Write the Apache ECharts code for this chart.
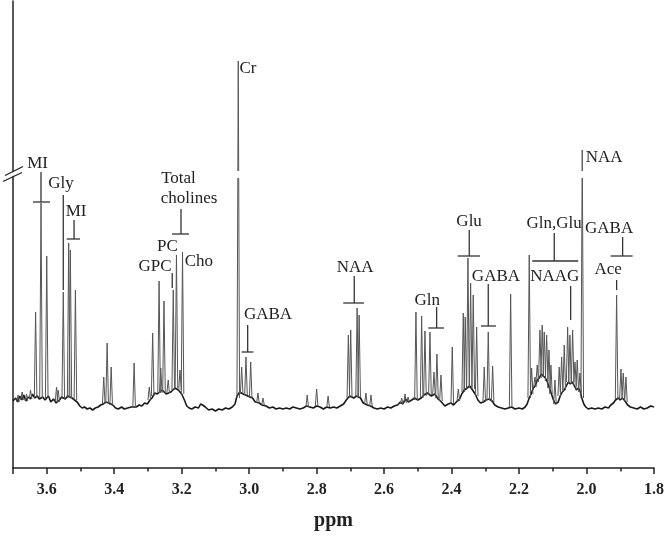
<!DOCTYPE html>
<html>
<head>
<meta charset="utf-8">
<script src="https://cdn.jsdelivr.net/npm/echarts@6/dist/echarts.min.js"></script>
</head>
<body style="margin: 0; padding: 0; background: #fff;">
<div id="chart" style="width: 668px; height: 537px;"></div>
<script>
// spectrum, intensity in arbitrary units (0 = baseline)
// baseline noise and humps: [ppm, level]
const baseline = [
  [3.700, 7], [3.692, 10], [3.686, 6], [3.680, 12], [3.674, 8], [3.668, 13], [3.662, 7],
  [3.655, 11], [3.648, 9], [3.642, 14], [3.636, 10], [3.628, 12], [3.622, 9], [3.612, 11],
  [3.605, 8], [3.595, 12], [3.588, 6], [3.580, 9], [3.572, 5], [3.562, 8], [3.556, 11],
  [3.545, 9], [3.538, 12], [3.525, 10], [3.510, 6], [3.502, 2], [3.495, 0], [3.488, 1],
  [3.480, -1], [3.472, 0], [3.464, -2], [3.456, 0], [3.448, 1], [3.440, 3], [3.432, 4],
  [3.426, 6], [3.416, 5], [3.404, 3], [3.396, 0], [3.388, -1], [3.378, 1], [3.370, -1],
  [3.360, 0], [3.350, 1], [3.345, 2], [3.335, 1], [3.326, 3], [3.318, 2], [3.310, 5],
  [3.302, 4], [3.294, 8], [3.288, 10], [3.280, 15], [3.272, 14], [3.258, 18], [3.246, 14],
  [3.232, 16], [3.220, 20], [3.210, 18], [3.200, 14], [3.192, 8], [3.185, 2], [3.178, 0],
  [3.170, -1], [3.160, 1], [3.150, 0], [3.144, 4], [3.138, 3], [3.130, 1], [3.120, -2],
  [3.110, -1], [3.100, -3], [3.090, -1], [3.080, -2], [3.070, 0], [3.060, -1], [3.050, 1],
  [3.042, 4], [3.036, 12], [3.028, 16], [3.018, 14], [3.004, 12], [2.990, 10], [2.982, 6],
  [2.970, 5], [2.962, 3], [2.950, 2], [2.940, 0], [2.930, 1], [2.920, -1], [2.910, 0],
  [2.900, -1], [2.890, 0], [2.880, -1], [2.870, 1], [2.860, 0], [2.850, -1], [2.840, 0],
  [2.830, 2], [2.820, 1], [2.810, 0], [2.800, 2], [2.790, 1], [2.780, -1], [2.770, 1],
  [2.760, 0], [2.750, 1], [2.740, 0], [2.730, 2], [2.720, 4], [2.712, 8], [2.702, 12],
  [2.690, 10], [2.682, 12], [2.670, 10], [2.662, 5], [2.650, 3], [2.640, 2], [2.630, 0],
  [2.620, -1], [2.610, 0], [2.600, -1], [2.590, 1], [2.580, 0], [2.570, 2], [2.560, 3],
  [2.552, 6], [2.545, 4], [2.536, 9], [2.528, 6], [2.518, 8], [2.510, 10], [2.500, 8],
  [2.490, 10], [2.482, 13], [2.472, 15], [2.460, 12], [2.450, 14], [2.440, 9], [2.430, 6],
  [2.420, 2], [2.410, 4], [2.402, 5], [2.394, 3], [2.386, 6], [2.376, 9], [2.370, 14],
  [2.362, 18], [2.354, 20], [2.346, 22], [2.338, 18], [2.330, 14], [2.322, 8], [2.314, 5],
  [2.306, 6], [2.298, 8], [2.288, 9], [2.280, 7], [2.272, 3], [2.262, 1], [2.252, 0],
  [2.242, -1], [2.232, 0], [2.222, 1], [2.212, -1], [2.200, 0], [2.190, -1], [2.182, 1],
  [2.176, 4], [2.170, 10], [2.164, 14], [2.158, 20], [2.152, 22], [2.146, 28], [2.140, 30],
  [2.134, 34], [2.128, 32], [2.122, 30], [2.116, 26], [2.110, 20], [2.104, 14], [2.098, 8],
  [2.092, 4], [2.088, 2], [2.084, 6], [2.078, 12], [2.072, 16], [2.066, 18], [2.060, 22],
  [2.054, 26], [2.048, 24], [2.042, 26], [2.036, 22], [2.030, 18], [2.024, 20], [2.018, 16],
  [2.014, 10], [2.008, 4], [2.002, 1], [1.995, -1], [1.985, 0], [1.975, -1], [1.965, 0],
  [1.955, -1], [1.945, 1], [1.935, 0], [1.928, 3], [1.920, 5], [1.914, 8], [1.906, 10],
  [1.900, 8], [1.894, 10], [1.886, 7], [1.878, 3], [1.870, 1], [1.860, 0], [1.850, -1],
  [1.840, 1], [1.830, -1], [1.820, 0], [1.810, 2], [1.800, 1]
]

// peaks: [ppm, top, local base]
const miPeaks = [
  [3.685, 13, 6], [3.673, 16, 8], [3.660, 14, 7], [3.648, 18, 9],
  [3.633, 96, 10], [3.617, 205, 10], [3.600, 152, 10], [3.571, 21, 6], [3.566, 18, 6],
  [3.551, 116, 9], [3.535, 165, 10], [3.530, 158, 10], [3.515, 118, 8],
  [3.431, 31, 4], [3.421, 65, 5], [3.409, 41, 3], [3.341, 45, 1]
]
const cholinePeaks = [
  [3.296, 21, 8], [3.286, 75, 12], [3.267, 127, 15], [3.262, 40, 15], [3.2525, 107, 16],
  [3.240, 28, 15], [3.225, 118, 18], [3.2155, 153, 20], [3.205, 38, 18], [3.1975, 156, 14]
]
const crPeaks = [
  [3.0323, 347, 10], [3.0222, 41, 14], [3.0094, 51, 13], [2.9955, 46, 10],
  [2.974, 15, 5], [2.959, 10, 3], [2.828, 13, 1], [2.800, 19, 2], [2.766, 12, 1]
]
const naaPeaks = [
  [2.706, 73, 10], [2.699, 78, 11], [2.680, 100, 11], [2.674, 93, 11], [2.654, 15, 4], [2.639, 13, 2]
]
const glxPeaks = [
  [2.548, 10, 4], [2.538, 14, 5], [2.529, 11, 6], [2.5056, 96, 8], [2.4887, 92, 10],
  [2.4789, 77, 12], [2.4641, 76, 13], [2.4522, 36, 13], [2.4434, 54, 10], [2.4315, 33, 7],
  [2.398, 61, 4], [2.380, 19, 7], [2.3654, 95, 16], [2.3595, 91, 18], [2.3515, 150, 20],
  [2.3435, 125, 21], [2.3358, 113, 19], [2.3257, 81, 12], [2.3032, 41, 6], [2.2913, 76, 8],
  [2.2783, 42, 6], [2.2249, 114, 1]
]
const naagPeaks = [
  [2.1698, 153, 10], [2.1627, 40, 14], [2.1529, 31, 21], [2.1461, 43, 26], [2.1381, 78, 30],
  [2.1313, 83, 33], [2.1253, 76, 31], [2.1182, 73, 27], [2.1114, 58, 20], [2.1055, 43, 14],
  [2.0936, 28, 4], [2.0809, 41, 12], [2.0738, 51, 16], [2.0661, 63, 18], [2.0560, 81, 26],
  [2.0492, 73, 24], [2.0412, 78, 26], [2.0343, 46, 22], [2.0275, 48, 18], [2.0195, 35, 16],
  [2.0127, 258, 10]
]
const acePeaks = [
  [1.9108, 113, 9], [1.8980, 39, 9], [1.8912, 35, 9], [1.8832, 31, 6]
]

// annotations
const labelText = ['MI', 'Gly', 'MI', 'Total', 'cholines', 'PC', 'GPC', 'Cho', 'Cr', 'GABA',
  'NAA', 'Gln', 'Glu', 'GABA', 'Gln,Glu', 'NAAG', 'NAA', 'GABA', 'Ace']
const labelPos = [
  [3.627, 244], [3.558, 224], [3.513, 196], [3.2095, 229], [3.1784, 209], [3.242, 161],
  [3.279, 141], [3.149, 146], [3.0035, 339], [2.944, 93], [2.686, 140], [2.472, 107],
  [2.348, 186], [2.2685, 131], [2.096, 184], [2.094, 131], [1.948, 250], [1.933, 179], [1.936, 138]
]
// vertical stems: [ppm, from, to]
const stems = [
  [3.617, 236, 206], [3.551, 213, 118], [3.519, 188, 169], [3.202, 199, 174], [3.228, 135, 120],
  [3.0044, 83, 56], [2.6885, 132, 105], [2.4443, 101, 80], [2.3476, 178, 152], [2.2913, 124, 82],
  [2.0957, 175, 147], [2.0471, 122, 88], [1.893, 171, 152], [1.9108, 128, 118]
]
// horizontal bars: [ppm left, ppm right, level]
const bars = [
  [3.6407, 3.5903, 206], [3.5408, 3.5014, 169], [3.2288, 3.1784, 174], [3.0222, 2.9878, 56],
  [2.7211, 2.6597, 105], [2.4691, 2.4226, 80], [2.382, 2.3159, 152], [2.313, 2.2685, 82],
  [2.1609, 2.0246, 147], [1.9286, 1.8633, 152]
]

const breakLow = 230
const breakHigh = 237

const allPeaks = [].concat(miPeaks, cholinePeaks, crPeaks, naaPeaks, glxPeaks, naagPeaks, acePeaks)
const ink = '#222'
const serif = '"Liberation Serif", "Times New Roman", serif'

const chart = echarts.init(document.getElementById('chart'))

const axisStyle = { color: ink, width: 1.5 }

chart.setOption({
  animation: false,
  grid: [
    { left: 13, right: 14, top: 1, bottom: 69 },
    { left: 13, right: 14, top: 1, bottom: 69 }
  ],
  xAxis: [
    {
      type: 'value', gridIndex: 0, min: 1.8, max: 3.7, interval: 0.2, inverse: true,
      axisLine: { onZero: false, lineStyle: axisStyle },
      axisTick: { length: 6, lineStyle: axisStyle },
      splitLine: { show: false },
      axisLabel: {
        margin: 14, color: ink, fontFamily: serif, fontWeight: 'bold', fontSize: 16,
        formatter: v => (Math.abs(v - 3.7) < 1e-6 ? '' : v.toFixed(1))
      },
      name: 'ppm', nameLocation: 'middle', nameGap: 43,
      nameTextStyle: { color: ink, fontFamily: serif, fontWeight: 'bold', fontSize: 20 }
    },
    {
      // minor ticks every 0.1
      type: 'value', gridIndex: 1, min: 1.8, max: 3.7, interval: 0.1, inverse: true,
      axisLine: { show: false, onZero: false },
      axisTick: { length: 3.5, lineStyle: axisStyle },
      splitLine: { show: false },
      axisLabel: { show: false }
    }
  ],
  yAxis: [
    {
      type: 'value', gridIndex: 0, min: -60, max: 407,
      axisLine: { show: true, onZero: false, lineStyle: axisStyle },
      axisTick: { show: false }, axisLabel: { show: false }, splitLine: { show: false }
    },
    {
      type: 'value', gridIndex: 1, min: -60, max: 407, show: false
    }
  ],
  series: [
    {
      type: 'line', data: baseline, showSymbol: false, z: 2,
      lineStyle: { color: '#1a1a1a', width: 1.6 }
    },
    {
      type: 'custom', data: allPeaks, z: 3, encode: { x: 0, y: 1 },
      renderItem: (params, api) => {
        const x = api.coord([api.value(0), 0])[0]
        const top = api.coord([api.value(0), api.value(1)])[1]
        const base = api.coord([api.value(0), api.value(2)])[1]
        const children = [{
          type: 'polyline',
          shape: { points: [[x - 1.3, base], [x, top], [x + 1.3, base]] },
          style: { stroke: '#555', lineWidth: 1, fill: null }
        }]
        if (api.value(1) > breakHigh) {
          const y1 = api.coord([api.value(0), breakHigh])[1]
          const y2 = api.coord([api.value(0), breakLow])[1]
          children.push({
            type: 'rect', shape: { x: x - 3, y: y1, width: 6, height: y2 - y1 },
            style: { fill: '#fff' }
          })
        }
        return { type: 'group', children }
      }
    },
    {
      type: 'custom', data: stems, z: 4, encode: { x: 0, y: 1 },
      renderItem: (params, api) => {
        const a = api.coord([api.value(0), api.value(1)])
        const b = api.coord([api.value(0), api.value(2)])
        return {
          type: 'line', shape: { x1: a[0], y1: a[1], x2: b[0], y2: b[1] },
          style: { stroke: '#333', lineWidth: 1.3 }
        }
      }
    },
    {
      type: 'custom', data: bars, z: 4, encode: { x: [0, 1], y: 2 },
      renderItem: (params, api) => {
        const a = api.coord([api.value(0), api.value(2)])
        const b = api.coord([api.value(1), api.value(2)])
        return {
          type: 'line', shape: { x1: a[0], y1: a[1], x2: b[0], y2: b[1] },
          style: { stroke: '#333', lineWidth: 1.3 }
        }
      }
    },
    {
      type: 'custom', data: labelPos, z: 5, encode: { x: 0, y: 1 },
      renderItem: (params, api) => {
        const p = api.coord([api.value(0), api.value(1)])
        return {
          type: 'text', x: p[0], y: p[1],
          style: {
            text: labelText[params.dataIndex], fill: ink,
            font: '17px ' + serif, align: 'center', verticalAlign: 'middle'
          }
        }
      }
    },
    {
      // axis break mark on the y axis
      type: 'custom', data: [[3.7, (breakLow + breakHigh) / 2]], z: 6, encode: { x: 0, y: 1 },
      renderItem: (params, api) => {
        const p = api.coord([api.value(0), api.value(1)])
        const cx = p[0], cy = p[1]
        return {
          type: 'group',
          children: [
            { type: 'polygon', shape: { points: [[cx - 3, cy + 3], [cx + 3, cy], [cx + 3, cy - 4], [cx - 3, cy - 1]] }, style: { fill: '#fff' } },
            { type: 'line', shape: { x1: cx - 10, y1: cy + 7, x2: cx + 9, y2: cy - 2 }, style: { stroke: ink, lineWidth: 1.3 } },
            { type: 'line', shape: { x1: cx - 8, y1: cy + 1, x2: cx + 10, y2: cy - 8 }, style: { stroke: ink, lineWidth: 1.3 } }
          ]
        }
      }
    }
  ]
})
</script>
</body>
</html>
